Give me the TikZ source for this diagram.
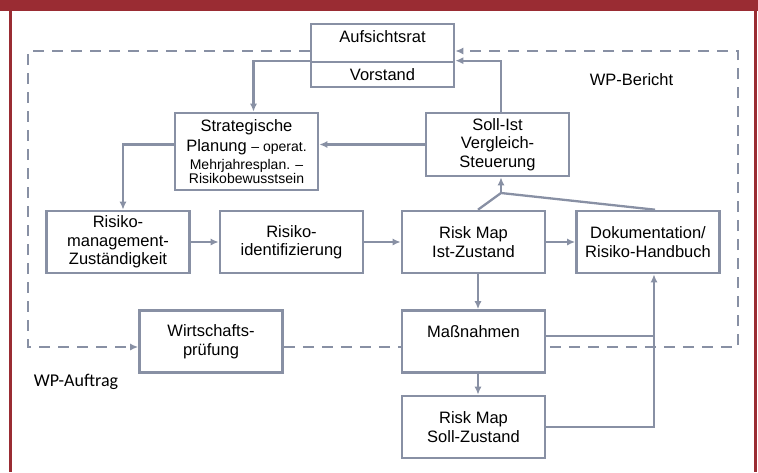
\documentclass[tikz,border=0pt]{standalone}
\usepackage{fontspec}
\setmainfont{Liberation Sans}
\newfontfamily\wpfont{Carlito}
\usetikzlibrary{arrows.meta,backgrounds}

\definecolor{rahmen}{HTML}{9A2C33}
\definecolor{graublau}{HTML}{8890A4}

\newcommand\klein{\fontsize{14}{14}\selectfont}

\tikzset{
  kasten/.style={draw=graublau, line width=2.6pt, fill=white,
    minimum width=143pt, minimum height=62pt, inner sep=1pt,
    align=center, font=\fontsize{16.5}{18.5}\selectfont},
  verbindung/.style={draw=graublau, line width=2.3pt},
  pfeil/.style={verbindung, -{Latex[length=8pt,width=7pt]}},
  gestrichelt/.style={draw=graublau, line width=2.3pt,
    dash pattern=on 11pt off 8pt, -{Latex[length=8pt,width=7pt]}},
}

\begin{document}
\begin{tikzpicture}[x=1pt, y=-1pt]
\useasboundingbox (0,0) rectangle (758,472);

\pgfmathsetmacro\xLinks{28};
\pgfmathsetmacro\xRechts{738};
\pgfmathsetmacro\yOben{51};
\pgfmathsetmacro\yUnten{347};

% frame
\fill[rahmen] (0,0) rectangle (758,10.5);
\draw[rahmen, line width=2.4pt] (10.5,10) -- (10.5,472);
\draw[rahmen, line width=2.4pt] (755.6,10) -- (755.6,472);

% boxes
\node[kasten, minimum height=38pt, text depth=12pt] (aufsicht) at (382.5,43) {Aufsichtsrat};
\node[kasten, minimum height=25pt] (vorstand) at (382.5,74.5) {Vorstand};

\node[kasten, minimum height=77pt] (planung) at (246.5,151.5)
  {Strategische\\[1.5pt]
   Planung {\klein – operat.}\\[-1pt]
   {\klein Mehrjahresplan. –}\\[-4.5pt]
   {\klein Risikobewusstsein}};
\node[kasten, minimum height=63pt] (soll) at (497.5,144.5) {Soll-Ist\\Vergleich-\\Steuerung};

\node[kasten] (zustaendig) at (118,242) {Risiko-\\management-\\Zuständigkeit};
\node[kasten] (ident) at (291.5,242) {Risiko-\\identifizierung};
\node[kasten] (istmap) at (473.5,242) {Risk Map\\Ist-Zustand};
\node[kasten] (doku) at (648,242) {Dokumentation/\\Risiko-Handbuch};

\node[kasten, text depth=19pt] (massnahmen) at (473.5,341.5) {Maßnahmen};
\node[kasten] (pruefung) at (211,341.5) {Wirtschafts-\\prüfung};
\node[kasten] (sollmap) at (473.5,427) {Risk Map\\Soll-Zustand};

% labels
\node[font=\fontsize{16.5}{18}\selectfont] (bericht) at (631.5,80) {WP-Bericht};
\node[font=\wpfont\fontsize{18}{20}\selectfont] (auftrag) at (76,382) {WP-Auftrag};

% WP loop
\coordinate (ol) at (\xLinks,\yOben);
\coordinate (ul) at (\xLinks,\yUnten);
\coordinate (or) at (\xRechts,\yOben);
\coordinate (ur) at (\xRechts,\yUnten);

\begin{scope}[on background layer]
\draw[gestrichelt] (ol -| aufsicht.west) -- (ol) -- (ul) -- (ul -| pruefung.west);
\draw[gestrichelt] (ul -| pruefung.east) -- (ur) -- (or) -- (or -| aufsicht.east);
\end{scope}

% top loop
\draw[pfeil] (vorstand.north west) -| ([xshift=7pt]planung.north);
\draw[pfeil] ([xshift=3.5pt]soll.north) |- (vorstand.north east);
\draw[pfeil] (soll.west) -- (soll.west -| planung.east);
\draw[pfeil] (planung.west |- soll.west) -| ([xshift=5pt]zustaendig.north);

% row
\draw[pfeil] (zustaendig) -- (ident);
\draw[pfeil] (ident) -- (istmap);
\draw[pfeil] (istmap) -- (doku);

% back to Soll-Ist
\coordinate (knoten) at (501,193);
\draw[verbindung] ([xshift=4.5pt]istmap.north) -- (knoten) -- ([xshift=7pt]doku.north);
\draw[pfeil] (knoten) -- (knoten |- soll.south);

% measures
\draw[pfeil] ([xshift=4.5pt]istmap.south) -- ([xshift=4.5pt]massnahmen.north);
\draw[pfeil] ([xshift=4.5pt]massnahmen.south) -- ([xshift=4.5pt]sollmap.north);
\coordinate (sammel) at (654,336);
\draw[verbindung] (sammel -| massnahmen.east) -- (sammel);
\draw[pfeil] (sollmap.east) -| (sammel |- doku.south);

\end{tikzpicture}
\end{document}
